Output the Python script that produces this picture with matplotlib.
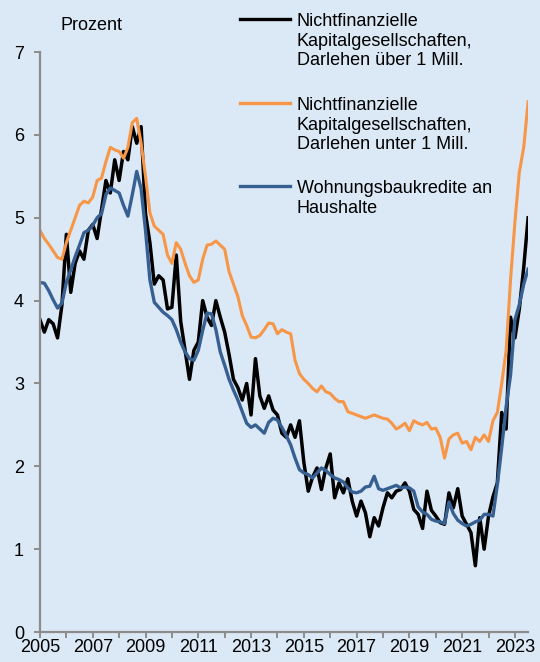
# -*- coding: utf-8 -*-
# Zinssaetze fuer Kredite, 2005 - 2023 (zweimonatliche Werte, Prozent)

import numpy as np
import matplotlib
matplotlib.use('Agg')
import matplotlib.pyplot as plt
from matplotlib.lines import Line2D

plt.rcParams['font.family'] = ['Liberation Sans', 'DejaVu Sans']

# DATA
start_year = 2005
steps_per_year = 6

# Nichtfinanzielle Kapitalgesellschaften, Darlehen ueber 1 Mill.
nfk_ueber = [
    3.77, 3.62, 3.77, 3.72, 3.55, 3.95,
    4.80, 4.10, 4.45, 4.60, 4.50, 4.85,
    4.92, 4.75, 5.10, 5.45, 5.30, 5.70,
    5.45, 5.80, 5.70, 6.10, 5.90, 6.10,
    5.05, 4.70, 4.20, 4.30, 4.25, 3.90,
    3.92, 4.55, 3.75, 3.40, 3.05, 3.40,
    3.50, 4.00, 3.80, 3.70, 4.00, 3.80,
    3.62, 3.35, 3.05, 2.95, 2.80, 3.00,
    2.62, 3.30, 2.85, 2.70, 2.85, 2.68,
    2.62, 2.40, 2.35, 2.50, 2.35, 2.55,
    2.05, 1.70, 1.87, 1.98, 1.72, 1.98,
    2.15, 1.62, 1.80, 1.68, 1.85, 1.58,
    1.40, 1.58, 1.44, 1.15, 1.38, 1.28,
    1.50, 1.68, 1.62, 1.70, 1.72, 1.80,
    1.70, 1.48, 1.42, 1.25, 1.70, 1.47,
    1.40, 1.32, 1.30, 1.68, 1.50, 1.73,
    1.40, 1.30, 1.20, 0.80, 1.38, 1.00,
    1.40, 1.63, 1.80, 2.65, 2.45, 3.80,
    3.55, 3.90, 4.40, 5.00,
]

# Nichtfinanzielle Kapitalgesellschaften, Darlehen unter 1 Mill.
nfk_unter = [
    4.85, 4.75, 4.68, 4.60, 4.52, 4.50,
    4.70, 4.85, 5.00, 5.15, 5.20, 5.18,
    5.25, 5.45, 5.48, 5.68, 5.85, 5.82,
    5.80, 5.72, 5.85, 6.15, 6.20, 5.90,
    5.50, 5.06, 4.90, 4.85, 4.80, 4.55,
    4.45, 4.70, 4.62, 4.45, 4.30, 4.22,
    4.25, 4.50, 4.67, 4.68, 4.72, 4.67,
    4.62, 4.35, 4.20, 4.05, 3.82, 3.70,
    3.56, 3.55, 3.58, 3.65, 3.73, 3.72,
    3.60, 3.65, 3.62, 3.60, 3.28, 3.12,
    3.05, 3.00, 2.94, 2.90, 2.97, 2.90,
    2.88, 2.82, 2.78, 2.78, 2.66, 2.64,
    2.62, 2.60, 2.58, 2.60, 2.62, 2.60,
    2.58, 2.57, 2.52, 2.45, 2.48, 2.52,
    2.43, 2.55, 2.52, 2.50, 2.53, 2.45,
    2.46, 2.35, 2.10, 2.33, 2.38, 2.40,
    2.28, 2.30, 2.20, 2.35, 2.30, 2.38,
    2.30, 2.55, 2.65, 3.00, 3.40, 4.25,
    4.95, 5.55, 5.85, 6.40,
]

# Wohnungsbaukredite an Haushalte
wohnungsbau = [
    4.22, 4.21, 4.12, 4.01, 3.91, 3.97,
    4.22, 4.37, 4.53, 4.67, 4.82, 4.85,
    4.91, 5.00, 5.05, 5.28, 5.36, 5.33,
    5.30, 5.15, 5.02, 5.28, 5.56, 5.35,
    4.85, 4.25, 3.98, 3.92, 3.86, 3.82,
    3.77, 3.65, 3.50, 3.38, 3.30, 3.28,
    3.40, 3.64, 3.85, 3.84, 3.65, 3.38,
    3.22, 3.05, 2.92, 2.80, 2.66, 2.52,
    2.47, 2.50, 2.45, 2.40, 2.53, 2.58,
    2.56, 2.47, 2.37, 2.26, 2.10, 1.96,
    1.92, 1.90, 1.86, 1.92, 1.98, 1.95,
    1.90, 1.86, 1.84, 1.81, 1.74, 1.69,
    1.68, 1.70, 1.75, 1.76, 1.88, 1.73,
    1.71, 1.73, 1.75, 1.77, 1.74, 1.75,
    1.74, 1.70, 1.51, 1.45, 1.42, 1.36,
    1.34, 1.33, 1.31, 1.57, 1.43, 1.35,
    1.31, 1.28, 1.30, 1.33, 1.35, 1.42,
    1.42, 1.40, 1.78, 2.23, 2.72, 3.10,
    3.77, 3.95, 4.20, 4.38,
]

labels = [
    'Nichtfinanzielle\nKapitalgesellschaften,\nDarlehen über 1 Mill.',
    'Nichtfinanzielle\nKapitalgesellschaften,\nDarlehen unter 1 Mill.',
    'Wohnungsbaukredite an\nHaushalte',
]
colors = ['#000000', '#f79646', '#376092']

years = start_year + np.arange(len(nfk_ueber)) / steps_per_year

# PLOT
bg = '#dbe8f5'
fig = plt.figure(figsize=(5.4, 6.62), dpi=100)
fig.patch.set_facecolor(bg)
ax = fig.add_axes([0.074, 0.0453, 0.904, 0.876])
ax.set_facecolor(bg)

ax.plot(years, nfk_ueber, color=colors[0], lw=2.5)
ax.plot(years, nfk_unter, color=colors[1], lw=2.2)
ax.plot(years, wohnungsbau, color=colors[2], lw=2.4)

ax.set_xlim(2005, 2023.5)
ax.set_ylim(0, 7)
ax.set_yticks(range(0, 8))
ax.set_xticks(range(2005, 2024, 2))
ax.set_xticks(range(2006, 2024, 2), minor=True)

for s in ['top', 'right']:
    ax.spines[s].set_visible(False)
for s in ['left', 'bottom']:
    ax.spines[s].set_color('#8c8c8c')
    ax.spines[s].set_linewidth(1.6)

ax.tick_params(axis='y', which='both', color='#8c8c8c', width=1.4, length=4.5,
               pad=7, labelsize=13)
ax.tick_params(axis='x', which='both', color='#8c8c8c', width=1.4, length=4,
               pad=1, labelsize=13)

fig.text(60 / 540, 1 - 25 / 662, 'Prozent', fontsize=13, va='center')

# legend drawn by hand, handle next to first text line
legend_y = [19, 103, 186]
for lab, col, yy in zip(labels, colors, legend_y):
    yf = 1 - yy / 662
    fig.add_artist(Line2D([240 / 540, 290 / 540], [yf, yf], color=col, lw=2.4))
    fig.text(297 / 540, yf + 6 / 662, lab, fontsize=13, va='top',
             linespacing=1.2)

plt.savefig('out.png', dpi=100, facecolor=bg)
plt.close()
